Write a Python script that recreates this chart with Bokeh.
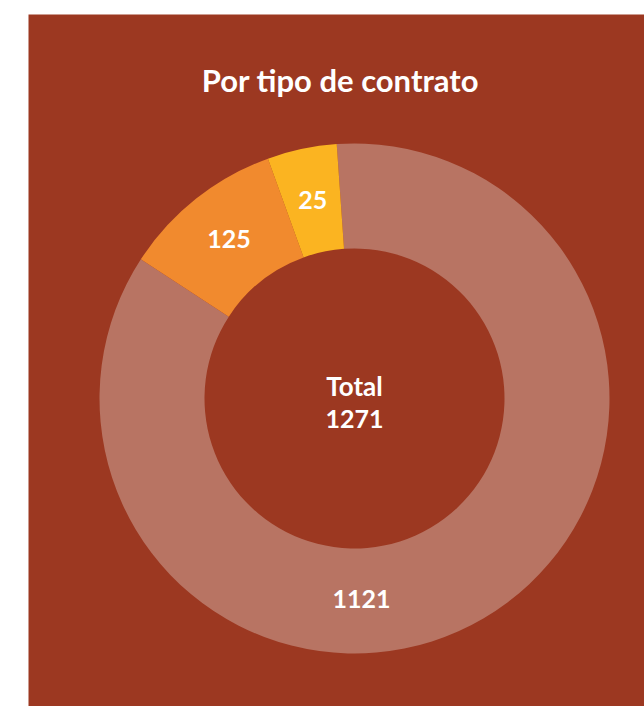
import math
from bokeh.plotting import figure
from bokeh.models import Range1d, Label, ColumnDataSource
from bokeh.embed import file_html
from bokeh.resources import INLINE
from bokeh.core.properties import value

# ---- data ----
categories = ["Grupo A", "Grupo B", "Grupo C"]
label_values = [1121, 125, 25]
arc_share_pct = [85.3, 10.3, 4.4]   # share of the ring each slice occupies in the picture
total_value = 1271
title_text = "Por tipo de contrato"
center_word = "Total"

# ---- style ----
BG = "#9C3821"
colors = ["#B87463", "#F18A2E", "#FBB421"]
FONT = "Lato"
start_deg = 94.0          # ring starts just left of 12 o'clock, running clockwise
outer_r = 255
inner_r = 150
label_r = 202

starts, ends, lx, ly, texts = [], [], [], [], []
cum = 0.0
for share, v in zip(arc_share_pct, label_values):
    a0 = start_deg - cum * 3.6
    a1 = start_deg - (cum + share) * 3.6
    starts.append(math.radians(a0))
    ends.append(math.radians(a1))
    if share > 50:
        mid = -88.0
    else:
        mid = (a0 + a1) / 2
    lx.append(label_r * math.cos(math.radians(mid)))
    ly.append(label_r * math.sin(math.radians(mid)))
    texts.append(str(v))
    cum += share

src = ColumnDataSource(dict(cat=categories, start=starts, end=ends, color=colors))
lsrc = ColumnDataSource(dict(x=lx, y=ly, text=texts))

p = figure(width=644, height=706, output_backend="svg", toolbar_location=None,
           x_range=Range1d(-326, 290), y_range=Range1d(-308, 384),
           min_border_left=28, min_border_top=14, min_border_right=0, min_border_bottom=0)
p.background_fill_color = BG
p.border_fill_color = "white"
p.outline_line_color = None
p.axis.visible = False
p.grid.visible = False

p.annular_wedge(x=0, y=0, inner_radius=inner_r, outer_radius=outer_r,
                inner_radius_units="screen", outer_radius_units="screen",
                start_angle="start", end_angle="end", direction="clock",
                fill_color="color", line_color=None, source=src)

p.text(x="x", y="y", text="text", source=lsrc, text_color="white",
       text_font=value(FONT), text_font_style="bold", text_font_size="25px",
       text_align="center", text_baseline="alphabetic", y_offset=-1)

p.add_layout(Label(x=-14, y=319, text=title_text, text_color="white",
                   text_font=FONT, text_font_style="bold", text_font_size="31px",
                   text_align="center", text_baseline="alphabetic"))
p.add_layout(Label(x=0, y=13, text=center_word, text_color="white",
                   text_font=FONT, text_font_style="bold", text_font_size="26px",
                   text_align="center", text_baseline="alphabetic"))
p.add_layout(Label(x=0, y=-20, text=str(total_value), text_color="white",
                   text_font=FONT, text_font_style="bold", text_font_size="25px",
                   text_align="center", text_baseline="alphabetic"))

open("out.html", "w").write(file_html(p, INLINE))
